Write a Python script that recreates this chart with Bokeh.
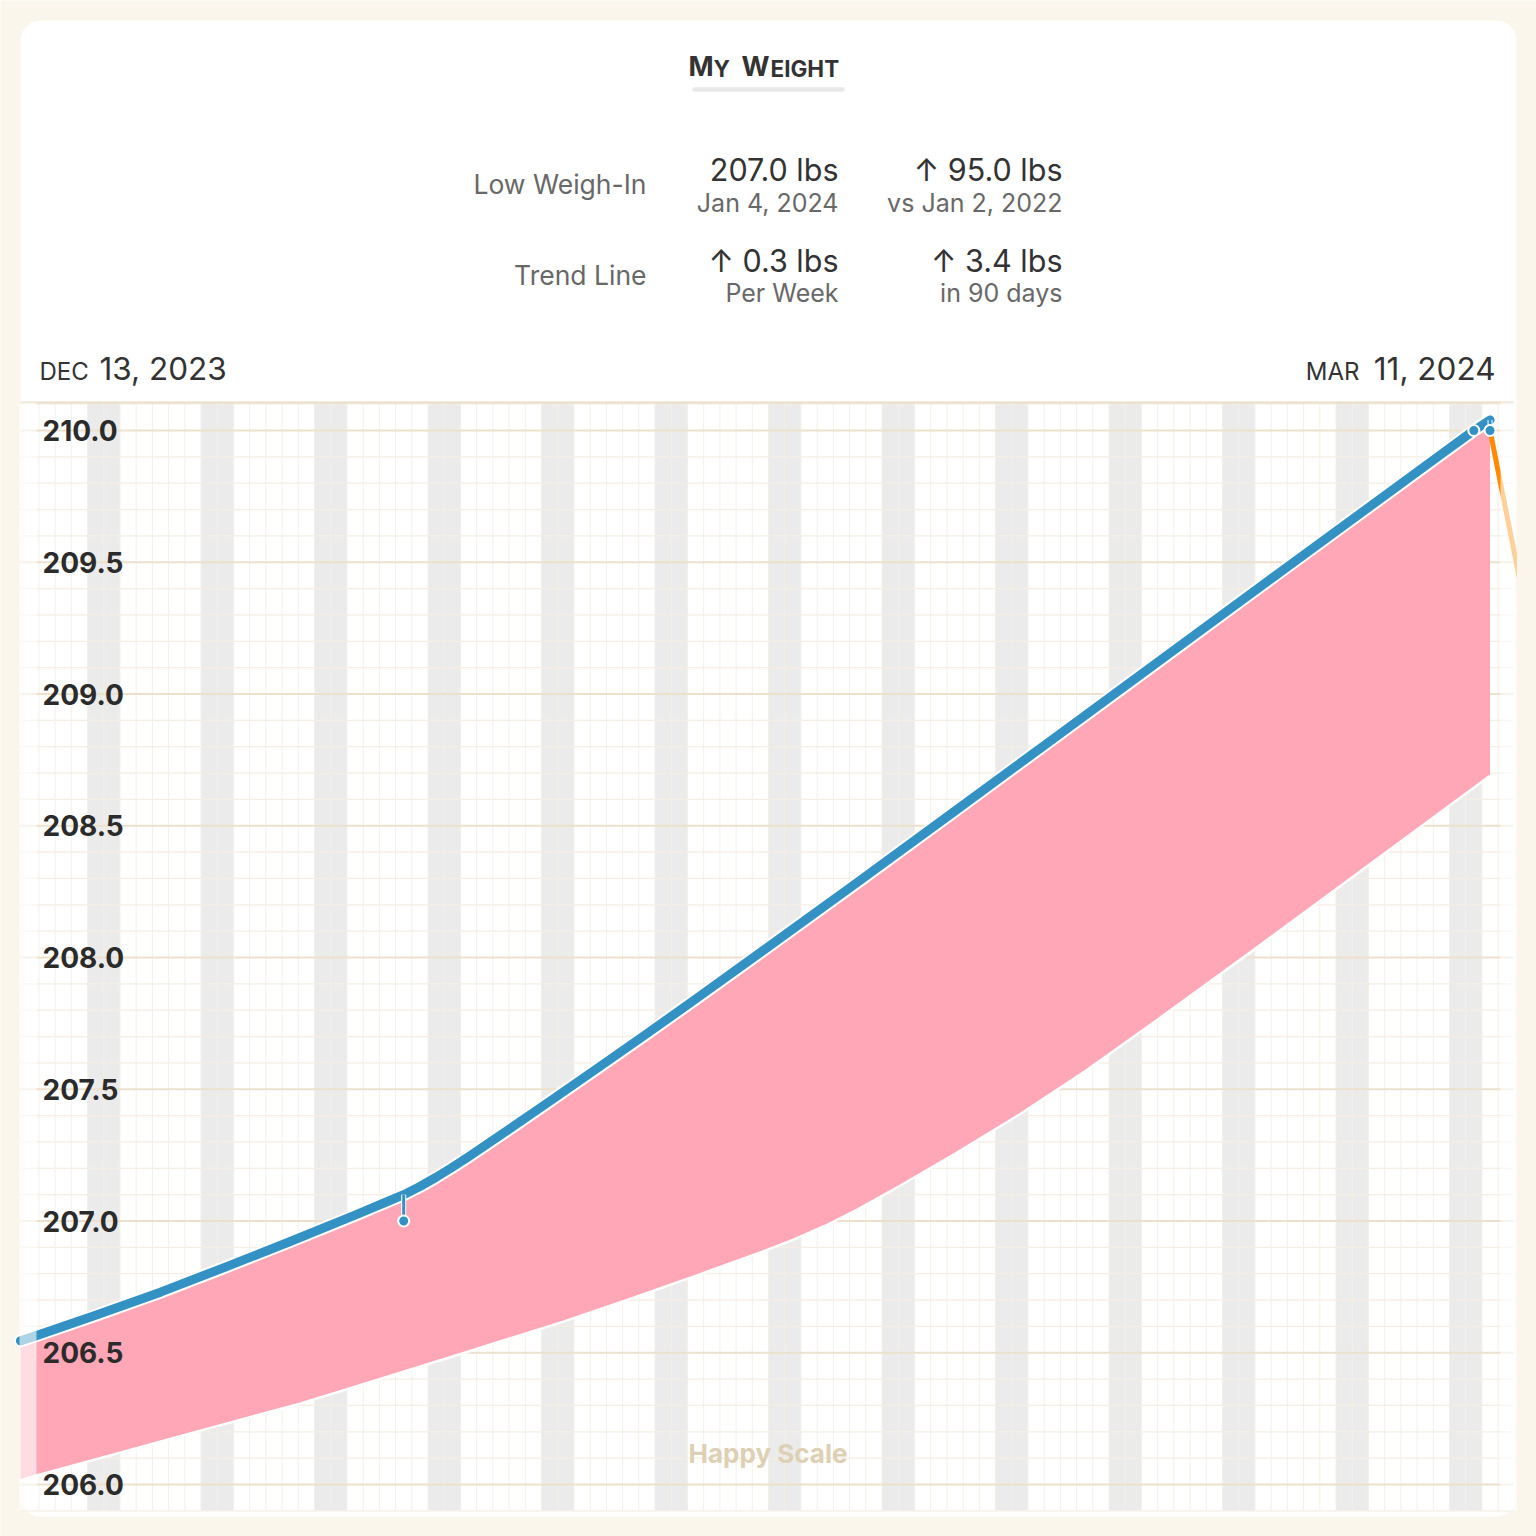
import datetime as dt
import numpy as np
from bokeh.plotting import figure
from bokeh.models import Range1d
from bokeh.core.properties import value
from bokeh.embed import file_html
from bokeh.resources import INLINE

# ---------------- data ----------------
start_date = dt.date(2023, 12, 13)          # day 0
start_label = ("DEC", "13, 2023")
end_label = ("MAR", "11, 2024")
title_parts = ["M", "Y", "W", "EIGHT"]       # "My Weight" in small caps
stat_labels = ["Low Weigh-In", "Trend Line"]
stat_values_a = ["207.0 lbs", "\u2191 0.3 lbs"]
stat_subs_a = ["Jan 4, 2024", "Per Week"]
stat_values_b = ["\u2191 95.0 lbs", "\u2191 3.4 lbs"]
stat_subs_b = ["vs Jan 2, 2022", "in 90 days"]
watermark = "Happy Scale"

y_ticks = [206.0, 206.5, 207.0, 207.5, 208.0, 208.5, 209.0, 209.5, 210.0]
y_tick_labels = ["206.0", "206.5", "207.0", "207.5", "208.0", "208.5", "209.0", "209.5", "210.0"]

# trend line (days since Dec 13, 2023 -> lbs)
trend_days = [-1.64, -0.65, 3, 7, 11, 15, 19, 21, 22, 23, 24, 25, 26, 28, 31, 34, 37, 40,
              44, 50, 56, 62, 68, 74, 80, 86, 88, 89]
trend_lbs = [206.545, 206.565, 206.642, 206.730, 206.825, 206.922, 207.022, 207.074, 207.10,
             207.131, 207.166, 207.204, 207.244, 207.327, 207.454, 207.582, 207.711, 207.842,
             208.019, 208.286, 208.556, 208.827, 209.098, 209.370, 209.640, 209.910, 210.0, 210.04]

# lower edge of the pink band
band_low_days = [-1.64, -0.65, 4, 9, 15.6, 20, 26, 31.9, 36, 40, 44, 46, 48, 50, 52.5, 56,
                 60, 64, 68.4, 74, 81.4, 89]
band_low_lbs = [206.015, 206.034, 206.112, 206.197, 206.307, 206.390, 206.505, 206.619, 206.705,
                206.792, 206.881, 206.928, 206.982, 207.044, 207.13, 207.255, 207.405, 207.567,
                207.76, 208.01, 208.345, 208.69]

# weigh-ins
weighin_days = [22, 88, 89]
weighin_lbs = [207.0, 210.0, 210.0]

# projection (orange)
projection_days = [89, 91]
projection_lbs = [210.0, 209.38]

# ---------------- layout helpers (page pixels -> data) ----------------
PX_PER_DAY = 16.214
PX_PER_LB = 263.5


def X(px):
    return (px - 46.5) / PX_PER_DAY


def Y(py):
    return 210.0 - (py - 430.0) / PX_PER_LB


CREAM = "#FAF6EB"
BLUE = "#3391C4"
PINK = "#FFA6B7"
ORANGE = "#FF8A00"
FONT = value("Inter")

p = figure(width=1536, height=1536, x_range=Range1d(X(0), X(1536)), y_range=Range1d(Y(1536), Y(0)),
           x_axis_type=None, y_axis_type=None, toolbar_location=None, output_backend="svg",
           min_border=0, title=None, background_fill_color=CREAM, border_fill_color=CREAM,
           outline_line_color=None)
p.grid.visible = False


def rounded_rect(l, t, r, b, rad, n=14):
    pts = []
    for cx, cy, a0, a1 in [(r - rad, t + rad, -90, 0), (r - rad, b - rad, 0, 90),
                           (l + rad, b - rad, 90, 180), (l + rad, t + rad, 180, 270)]:
        for a in np.linspace(a0, a1, n):
            pts.append((cx + rad * np.cos(np.radians(a)), cy + rad * np.sin(np.radians(a))))
    return [X(q[0]) for q in pts], [Y(q[1]) for q in pts]


cx, cy = rounded_rect(20, 20, 1516, 1516, 20)
p.patch(cx, cy, fill_color="white", line_color=None)

PLOT_L, PLOT_R, PLOT_T, PLOT_B = X(20), X(1513), Y(402), Y(1510)

# weekend bands
days = np.arange(-5, 95)
sats = [int(d) for d in days if (start_date + dt.timedelta(days=int(d))).weekday() == 5]
sats = [d for d in sats if d - 0.5 >= PLOT_L and d + 1.5 <= PLOT_R]
p.quad(left=[d - 0.5 for d in sats], right=[d + 1.5 for d in sats], top=PLOT_T, bottom=PLOT_B,
       fill_color="#EBEBEB", line_color=None)

# vertical day grid
vb = [d + 0.5 for d in days if PLOT_L < d + 0.5 < PLOT_R]
p.segment(x0=vb, y0=PLOT_B, x1=vb, y1=PLOT_T, line_color="#F5F0E6", line_width=1)

# horizontal grid
minor = [round(v, 1) for v in np.arange(205.9, 210.15, 0.1)]
minor = [v for v in minor if v not in y_ticks and PLOT_B - 0.01 <= v <= PLOT_T + 0.01]
p.segment(x0=PLOT_L, y0=minor, x1=PLOT_R, y1=minor, line_color="#F4EEE3", line_width=1.2)
p.segment(x0=PLOT_L, y0=y_ticks, x1=PLOT_R, y1=y_ticks, line_color="#EDE1CE", line_width=2)
p.segment(x0=PLOT_L, y0=[PLOT_T], x1=PLOT_R, y1=[PLOT_T], line_color="#EADDC8", line_width=2)

# pink band
p.patch(trend_days + band_low_days[::-1], trend_lbs + band_low_lbs[::-1],
        fill_color=PINK, line_color=None)
p.line(band_low_days, band_low_lbs, line_color="white", line_width=2.5, line_join="round")

# projection
p.line(projection_days, projection_lbs, line_color=ORANGE, line_width=5)

# trend line
p.line(trend_days, trend_lbs, line_color="white", line_width=13, line_cap="round", line_join="round")
p.line(trend_days, trend_lbs, line_color=BLUE, line_width=9, line_cap="round", line_join="round")

# weigh-in stems and dots
stem_top = list(np.interp(weighin_days, trend_days, trend_lbs))
p.segment(x0=weighin_days, y0=weighin_lbs, x1=weighin_days, y1=stem_top, line_color="white", line_width=5)
p.segment(x0=weighin_days, y0=weighin_lbs, x1=weighin_days, y1=stem_top, line_color=BLUE, line_width=3)
p.scatter(weighin_days, weighin_lbs, marker="circle", size=11, fill_color=BLUE,
          line_color="white", line_width=2)

# faded edges
p.quad(left=[X(19)], right=[X(36)], top=PLOT_T, bottom=PLOT_B, fill_color="white", fill_alpha=0.6, line_color=None)
p.quad(left=[X(1500)], right=[X(1516)], top=PLOT_T, bottom=PLOT_B, fill_color="white", fill_alpha=0.6, line_color=None)
p.quad(left=[X(1516)], right=[X(1540)], top=PLOT_T, bottom=Y(1495), fill_color=CREAM, line_color=None)


def txt(xs, ys, texts, size, color, align="left", style="normal"):
    p.text(x=xs, y=ys, text=texts, text_font=FONT, text_font_size=value(f"{size}px"),
           text_font_style=style, text_color=color, text_align=align, text_baseline="middle")


# y tick labels
txt([X(42)] * len(y_ticks), y_ticks, y_tick_labels, 28, "#2B2B2B", style="bold")

# watermark
txt([X(767.5)], [Y(1453)], [watermark], 26, "#DDD0B5", align="center", style="bold")

# title (small caps)
txt([X(688), X(741)], [Y(65.8)] * 2, [title_parts[0], title_parts[2]], 27, "#333333", style="bold")
txt([X(713), X(770)], [Y(67.6)] * 2, [title_parts[1], title_parts[3]], 22.5, "#333333", style="bold")
p.line([X(694), X(842)], [Y(89), Y(89)], line_color="#E9E9E9", line_width=4.5, line_cap="round")

# stats block
txt([X(646)] * 2, [Y(183.5), Y(274)], stat_labels, 26.5, "#686868", align="right")
txt([X(838)] * 2, [Y(168.5), Y(259.5)], stat_values_a, 30.5, "#333333", align="right")
txt([X(1062)] * 2, [Y(168.5), Y(259.5)], stat_values_b, 30.5, "#333333", align="right")
txt([X(838)] * 2, [Y(202), Y(292)], stat_subs_a, 25, "#686868", align="right")
txt([X(1062)] * 2, [Y(202), Y(292)], stat_subs_b, 25, "#686868", align="right")

# date range labels
txt([X(39)], [Y(370.5)], [start_label[0]], 24, "#333333")
txt([X(99)], [Y(367.5)], [start_label[1]], 31.5, "#333333")
txt([X(1359)], [Y(370.5)], [end_label[0]], 24, "#333333", align="right")
txt([X(1495)], [Y(367.5)], [end_label[1]], 31.5, "#333333", align="right")

html = file_html(p, INLINE, title="My Weight")
html = html.replace("<body>", '<body style="background-color:#FAF6EB;">', 1)
open("out.html", "w").write(html)
